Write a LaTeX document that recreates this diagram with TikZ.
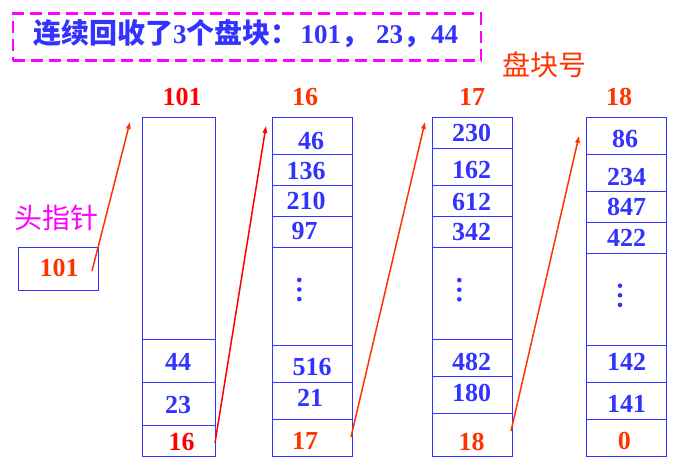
\documentclass[tikz,border=0pt]{standalone}
\usepackage{fontspec}
\setmainfont{Liberation Serif}
\newfontfamily\cjk{Noto Sans CJK SC}
\newfontfamily\digfont{Liberation Serif}[UprightFont=*-Bold]
\usetikzlibrary{arrows.meta}
\definecolor{cblue}{HTML}{3333FF}
\definecolor{cred}{HTML}{FF0000}
\definecolor{corange}{HTML}{FF3300}
\definecolor{cmag}{HTML}{FF00FF}
\tikzset{
  cellbox/.style={draw=cblue, line width=1pt, inner sep=0pt, outer sep=0pt},
  num/.style={text=cblue, font=\fontsize{26}{26}\selectfont\bfseries, inner sep=0pt},
  rnum/.style={num, text=corange},
  hnum/.style={num, text=corange},
  ptr/.style={line width=1.5pt, draw=corange, -{Triangle[length=7pt,width=4.5pt]}},
  dotsty/.style={fill=cblue},
}
\newcommand\cellbox[5]{\node[cellbox, minimum width={(#4)-(#2)}, minimum height={(#5)-(#3)}] (#1) at ({((#2)+(#4))/2},{((#3)+(#5))/2}) {};}
\newcommand\vdotsat[2]{\fill[dotsty] (#1,#2-9.6) circle (2.3); \fill[dotsty] (#1,#2) circle (2.3); \fill[dotsty] (#1,#2+9.6) circle (2.3);}
\newcommand\dg[1]{{\fontsize{27}{27}\bfseries\selectfont #1}}
\begin{document}
\begin{tikzpicture}[x=1pt,y=-1pt]
\useasboundingbox (0,0) rectangle (678,469);
% title
\node[draw=cmag, line width=2.5pt, dash pattern=on 12pt off 6pt, inner sep=0pt, minimum width=468pt, minimum height=47pt] (titlebox) at (247,37) {};
\node[anchor=west, text=cblue, inner sep=0pt, font=\fontsize{28}{28}\selectfont\bfseries] (title) at (33,34)
  {{\cjk\bfseries 连续回收了}\dg{3}{\cjk\bfseries 个盘块：}\hspace{2pt}\dg{101}{\cjk\bfseries ，}\hspace{7pt}\dg{23}{\cjk\bfseries ，}\dg{44}};
\node[text=corange, inner sep=0pt, font=\cjk\fontsize{28}{28}\selectfont] (pkh) at (544,65) {盘块号};
% headers
\node[num, text=cred] (h1) at (182,97) {101};
\node[hnum] (h2) at (305,97) {16};
\node[hnum] (h3) at (472,97) {17};
\node[hnum] (h4) at (619,97) {18};
% head pointer
\node[text=cmag, inner sep=0pt, font=\cjk\fontsize{28}{28}\selectfont] (hlab) at (57,218) {头指针};
\cellbox{head}{18}{247}{98}{290}
\node[rnum] (headt) at (59,268) {101};
% column 1
\cellbox{c1a}{142}{117}{215}{339}
\cellbox{c1b}{142}{339}{215}{382}
\cellbox{c1c}{142}{382}{215}{425}
\cellbox{c1d}{142}{425}{215}{456}
\node[num] (t1b) at (178,361.7) {44};
\node[num] (t1c) at (178,405) {23};
\node[num, text=cred] (t1d) at (181.7,441.7) {16};
% column 2
\cellbox{c2a}{272}{117}{352}{154}
\cellbox{c2b}{272}{154}{352}{185}
\cellbox{c2c}{272}{185}{352}{216}
\cellbox{c2d}{272}{216}{352}{247}
\cellbox{c2e}{272}{247}{352}{345}
\cellbox{c2f}{272}{345}{352}{382}
\cellbox{c2g}{272}{382}{352}{419}
\cellbox{c2h}{272}{419}{352}{456}
\node[num] (t2a) at (311,140.7) {46};
\node[num] (t2b) at (306,170.7) {136};
\node[num] (t2c) at (306,201) {210};
\node[num] (t2d) at (304.7,231) {97};
\vdotsat{299.3}{289.5}
\node[num] (t2f) at (312,367.3) {516};
\node[num] (t2g) at (310,397.7) {21};
\node[rnum] (t2h) at (305,441) {17};
% column 3
\cellbox{c3a}{432}{117}{512}{148}
\cellbox{c3b}{432}{148}{512}{185}
\cellbox{c3c}{432}{185}{512}{216}
\cellbox{c3d}{432}{216}{512}{247}
\cellbox{c3e}{432}{247}{512}{339}
\cellbox{c3f}{432}{339}{512}{376}
\cellbox{c3g}{432}{376}{512}{413}
\cellbox{c3h}{432}{413}{512}{456}
\node[num] (t3a) at (471.7,133.3) {230};
\node[num] (t3b) at (471.7,170) {162};
\node[num] (t3c) at (471.7,201.7) {612};
\node[num] (t3d) at (471.7,231.7) {342};
\vdotsat{459.3}{289.7}
\node[num] (t3f) at (471.7,361.7) {482};
\node[num] (t3g) at (471.7,392.7) {180};
\node[rnum] (t3h) at (471.7,441.7) {18};
% column 4
\cellbox{c4a}{586}{117}{666}{154}
\cellbox{c4b}{586}{154}{666}{191}
\cellbox{c4c}{586}{191}{666}{222}
\cellbox{c4d}{586}{222}{666}{253}
\cellbox{c4e}{586}{253}{666}{345}
\cellbox{c4f}{586}{345}{666}{382}
\cellbox{c4g}{586}{382}{666}{419}
\cellbox{c4h}{586}{419}{666}{456}
\node[num] (t4a) at (625,139.3) {86};
\node[num] (t4b) at (626.7,176.7) {234};
\node[num] (t4c) at (626.7,206.7) {847};
\node[num] (t4d) at (626.7,237.7) {422};
\vdotsat{620}{295.3}
\node[num] (t4f) at (626.7,361.7) {142};
\node[num] (t4g) at (626.7,404) {141};
\node[rnum] (t4h) at (624.3,440.7) {0};
% pointer arrows
\coordinate (p1s) at (92,271);  \coordinate (p1e) at (130,122);
\coordinate (p2s) at (215,443); \coordinate (p2e) at (266,126);
\coordinate (p3s) at (351,437); \coordinate (p3e) at (425,122);
\coordinate (p4s) at (511,431); \coordinate (p4e) at (579,136);
\draw[ptr] (p1s) -- (p1e);
\draw[ptr, draw=cred] (p2s) -- (p2e);
\draw[ptr] (p3s) -- (p3e);
\draw[ptr] (p4s) -- (p4e);
\end{tikzpicture}
\end{document}
